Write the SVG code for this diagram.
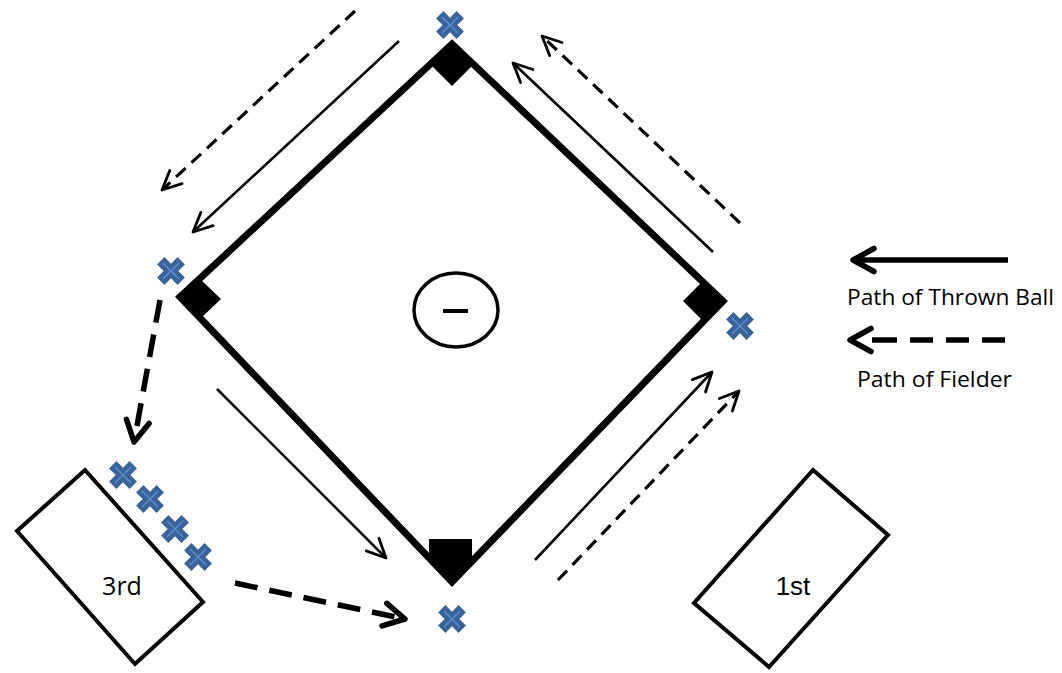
<svg xmlns="http://www.w3.org/2000/svg" xmlns:xlink="http://www.w3.org/1999/xlink" width="1062" height="673" viewBox="0 0 1062 673">
<style>
.field{fill:none;stroke:#000;stroke-width:7;stroke-linejoin:miter}
.base{fill:#000;stroke:none}
.box{fill:#fff;stroke:#000;stroke-width:4;stroke-linejoin:miter}
.thin{fill:none;stroke:#000;stroke-width:2.6}
.thindash{fill:none;stroke:#000;stroke-width:3.2;stroke-dasharray:13 8}
.thick{fill:none;stroke:#000;stroke-width:5.5}
.thickdash{fill:none;stroke:#000;stroke-width:5.5;stroke-dasharray:23 12}
.lbl{font-family:"Open Sans","Noto Sans",sans-serif;fill:#000}
.lbl1{font-family:"Liberation Sans",Arial,sans-serif;fill:#000}
</style>
<defs>
<marker id="ah-thin" markerUnits="userSpaceOnUse" viewBox="-30 -20 40 40" markerWidth="40" markerHeight="40" refX="0" refY="0" orient="auto" overflow="visible">
<path d="M-19,-9 L0,0 L-19,9" fill="none" stroke="#000" stroke-width="2.8" stroke-linecap="round" stroke-linejoin="round"/>
</marker>
<marker id="ah-thick" markerUnits="userSpaceOnUse" viewBox="-30 -20 40 40" markerWidth="40" markerHeight="40" refX="0" refY="0" orient="auto" overflow="visible">
<path d="M-21,-11.5 L0,0 L-21,11.5" fill="none" stroke="#000" stroke-width="5.5" stroke-linecap="round" stroke-linejoin="round"/>
</marker>
<g id="xmark">
<polygon transform="rotate(45)" points="-5.2,-14.5 5.2,-14.5 5.2,-5.2 14.5,-5.2 14.5,5.2 5.2,5.2 5.2,14.5 -5.2,14.5 -5.2,5.2 -14.5,5.2 -14.5,-5.2 -5.2,-5.2" fill="#3A6399"/>
<path d="M-8,-8 L8,8 M-8,8 L8,-8" stroke="#5F8FD6" stroke-width="1.2" fill="none"/>
</g>
</defs>
<rect width="1062" height="673" fill="#fff"/>

<g id="infield">
<polygon class="field" points="452,44 723,301 452,582 180,297"/>
</g>
<g id="second-base"><polygon class="base" points="452,46 472,66 452,86 432,66"/></g>
<g id="third-base"><polygon class="base" points="201,280 221,299 201,318 181,299"/></g>
<g id="first-base"><polygon class="base" points="702,282 721,301 702,320 683,301"/></g>
<g id="home-plate"><polygon class="base" points="429,539 472,539 472,560 452,582 429,558"/></g>
<g id="pitcher">
<ellipse cx="456" cy="310" rx="42" ry="37" fill="none" stroke="#000" stroke-width="3.5"/>
<line x1="443" y1="311" x2="468" y2="311" stroke="#000" stroke-width="4"/>
</g>

<g id="third-box">
<polygon class="box" points="85,470 203,602 135,664 17,531"/>
<text class="lbl" x="122" y="595" font-size="25" text-anchor="middle">3rd</text>
</g>
<g id="first-box">
<polygon class="box" points="813,470 888,535 769,667 694,603"/>
<text class="lbl1" x="793" y="595" font-size="26" text-anchor="middle">1st</text>
</g>

<g id="connectors">
<line class="thin" x1="399" y1="41" x2="193" y2="232" marker-end="url(#ah-thin)"/>
<line class="thin" x1="713" y1="252" x2="513" y2="63" marker-end="url(#ah-thin)"/>
<line class="thin" x1="535" y1="560" x2="712" y2="372" marker-end="url(#ah-thin)"/>
<line class="thin" x1="217" y1="389" x2="386" y2="558" marker-end="url(#ah-thin)"/>
<line class="thindash" x1="355" y1="11" x2="162" y2="190" marker-end="url(#ah-thin)"/>
<line class="thindash" x1="740" y1="223" x2="542" y2="36" marker-end="url(#ah-thin)"/>
<line class="thindash" x1="558" y1="580" x2="739" y2="391" marker-end="url(#ah-thin)"/>
<line class="thickdash" x1="160" y1="300" x2="134" y2="442" marker-end="url(#ah-thick)"/>
<line class="thickdash" x1="235" y1="583" x2="405" y2="619" marker-end="url(#ah-thick)"/>
</g>

<g id="fielder-second"><use xlink:href="#xmark" href="#xmark" x="450" y="25"/></g>
<g id="fielder-third"><use xlink:href="#xmark" href="#xmark" x="171" y="271"/></g>
<g id="fielder-first"><use xlink:href="#xmark" href="#xmark" x="740" y="326"/></g>
<g id="fielder-home"><use xlink:href="#xmark" href="#xmark" x="452" y="619"/></g>
<g id="fielder-line-1"><use xlink:href="#xmark" href="#xmark" x="123" y="475"/></g>
<g id="fielder-line-2"><use xlink:href="#xmark" href="#xmark" x="150" y="499"/></g>
<g id="fielder-line-3"><use xlink:href="#xmark" href="#xmark" x="175" y="529"/></g>
<g id="fielder-line-4"><use xlink:href="#xmark" href="#xmark" x="198" y="557"/></g>

<g id="legend">
<line class="thick" x1="1008" y1="260" x2="853" y2="260" marker-end="url(#ah-thick)"/>
<text class="lbl" x="847" y="305" font-size="22.5" textLength="207" lengthAdjust="spacingAndGlyphs">Path of Thrown Ball</text>
<line class="thick" x1="1005" y1="340" x2="850" y2="340" stroke-dasharray="23 13 23 13 23 13 25 40" marker-end="url(#ah-thick)"/>
<text class="lbl" x="857" y="387" font-size="22.5" textLength="155" lengthAdjust="spacingAndGlyphs">Path of Fielder</text>
</g>
</svg>
